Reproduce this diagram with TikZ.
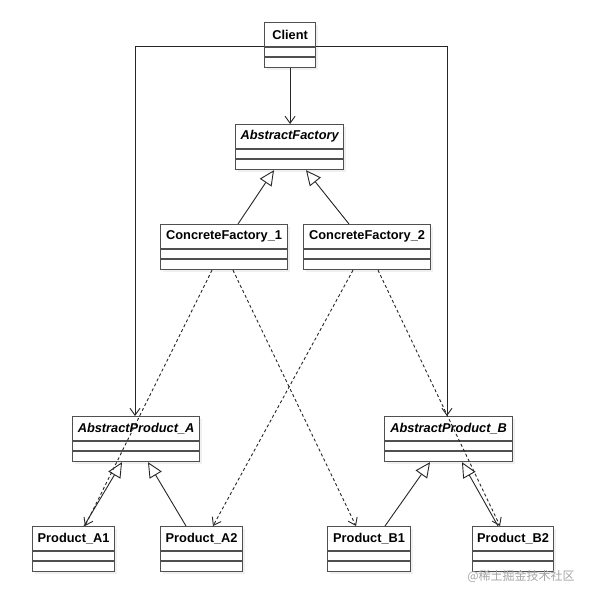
\documentclass[tikz,border=0pt]{standalone}
\usepackage{fontspec}
\setmainfont{Liberation Sans}
\newfontfamily\cjkfont{Noto Sans CJK SC}
\usetikzlibrary{arrows.meta,calc}
\definecolor{boxline}{HTML}{505050}
\tikzset{
  clsbox/.style={draw=boxline, line width=1.2bp, fill=white, inner sep=0pt, anchor=north west},
  clsshadow/.style={fill=black!6, draw=none},
  clstext/.style={font=\fontsize{12.8bp}{14bp}\selectfont\bfseries, inner sep=0pt, anchor=center},
  conn/.style={line width=0.9bp, draw=black!85},
  assoc/.style={conn, -{Straight Barb[length=7bp,width=10bp,line width=0.9bp]}},
  inherit/.style={conn, -{Triangle[open,length=15bp,width=14bp,line width=0.9bp,fill=white]}},
  depend/.style={conn, dashed, dash pattern=on 3bp off 2.5bp, -{Straight Barb[length=7bp,width=10bp,line width=0.9bp]}},
  watermark/.style={font=\cjkfont\fontsize{12bp}{14bp}\selectfont, text=black!35, inner sep=0pt}
}
% name, x1, y1, x2, text
\newcommand\umlcls[5]{%
  \fill[clsshadow] (#2+3,#3+3) rectangle (#4+3,#3+48);
  \node[clsbox, minimum width=#4bp-#2bp, minimum height=45bp] (#1) at (#2,#3) {};
  \node[clstext] (#1-t) at ($(#1.north)+(0,12.5)$) {#5};
  \draw[draw=boxline, line width=1.2bp] ($(#1.north west)+(0,25)$) -- ($(#1.north east)+(0,25)$);
  \draw[draw=boxline, line width=1.2bp] ($(#1.north west)+(0,35)$) -- ($(#1.north east)+(0,35)$);
}
\begin{document}
\begin{tikzpicture}[x=1bp,y=-1bp]
\useasboundingbox[fill=white] (0,0) rectangle (592,599);

\umlcls{client}{264}{22}{315}{Client}
\umlcls{af}{235}{124}{343}{\itshape AbstractFactory}
\umlcls{cfa}{160}{224}{287}{ConcreteFactory\_1}
\umlcls{cfb}{303}{224}{430}{ConcreteFactory\_2}
\umlcls{apa}{72}{416}{199}{\itshape AbstractProduct\_A}
\umlcls{apb}{384}{416}{512}{\itshape AbstractProduct\_B}
\umlcls{pa1}{32}{526}{114}{Product\_A1}
\umlcls{pa2}{160}{526}{242}{Product\_A2}
\umlcls{pb1}{327}{526}{410}{Product\_B1}
\umlcls{pb2}{472}{526}{553}{Product\_B2}

% associations from Client
\draw[assoc] (client.south) -- (client.south |- af.north);
\coordinate (cl) at ($(client.north west)+(0,24)$);
\coordinate (cr) at ($(client.north east)+(0,24)$);
\draw[assoc] (cl) -| ($(apa.north west)+(63,0)$);
\draw[assoc] (cr) -| ($(apb.north west)+(63,0)$);

% inheritance
\draw[inherit] ($(cfa.north west)+(78,0)$) -- ($(af.south west)+(39,0)$);
\draw[inherit] ($(cfb.north west)+(46,0)$) -- ($(af.south west)+(71,0)$);
\draw[inherit] ($(pa1.north west)+(52,0)$) -- ($(apa.south west)+(50,0)$);
\draw[inherit] ($(pa2.north west)+(26,0)$) -- ($(apa.south west)+(76,0)$);
\draw[inherit] ($(pb1.north west)+(58,0)$) -- ($(apb.south west)+(46,0)$);
\draw[inherit] ($(pb2.north west)+(26,0)$) -- ($(apb.south west)+(78,0)$);

% dependencies
\draw[depend] ($(cfa.south west)+(52,0)$) -- ($(pa1.north west)+(53,0)$);
\draw[depend] ($(cfa.south west)+(73,0)$) -- ($(pb1.north west)+(29,0)$);
\draw[depend] ($(cfb.south west)+(50,0)$) -- ($(pa2.north west)+(53,0)$);
\draw[depend] ($(cfb.south west)+(75,0)$) -- ($(pb2.north west)+(28,0)$);

\node[watermark] (wm) at (521,576) {@稀土掘金技术社区};
\end{tikzpicture}
\end{document}
